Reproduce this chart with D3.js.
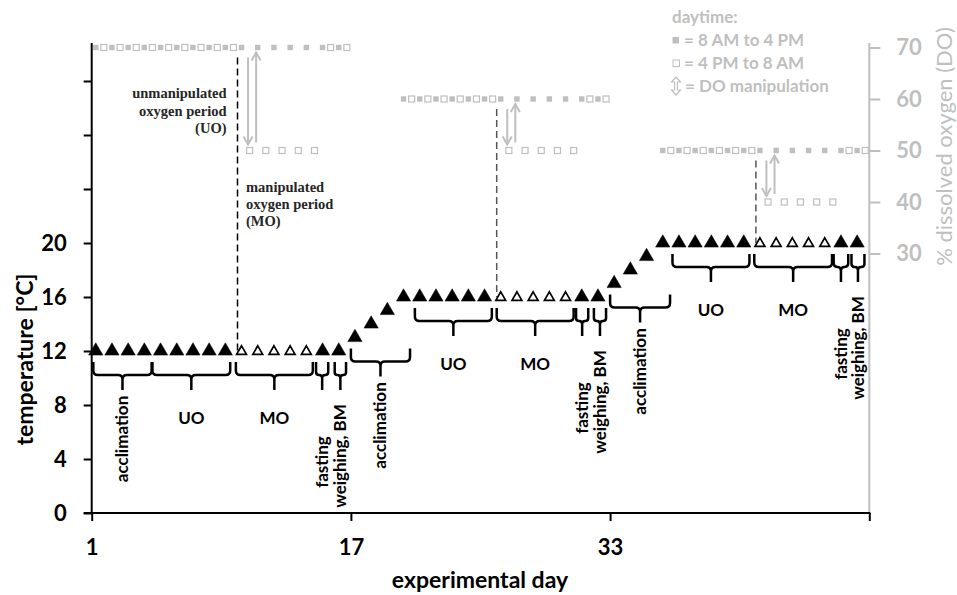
<!DOCTYPE html>
<html>
<head>
<meta charset="utf-8">
<script src="https://cdn.jsdelivr.net/npm/d3@7"></script>
<style>
  html, body { margin: 0; padding: 0; background: #fff; }
  svg { display: block; }
</style>
</head>
<body>
<svg id="chart" width="957" height="595"></svg>
<script>
// ---------------- DATA ----------------
const days = [1,2,3,4,5,6,7,8,9,10,11,12,13,14,15,16,17,18,19,20,21,22,23,24,25,26,27,28,29,30,31,32,33,34,35,36,37,38,39,40,41,42,43,44,45,46,47,48];
const temperature = [12,12,12,12,12,12,12,12,12,12,12,12,12,12,12,12,13,14,15,16,16,16,16,16,16,16,16,16,16,16,16,16,17,18,19,20,20,20,20,20,20,20,20,20,20,20,20,20];
// 1 = day of the manipulated oxygen period (open triangle)
const manipulated = [0,0,0,0,0,0,0,0,0,1,1,1,1,1,0,0,0,0,0,0,0,0,0,0,0,1,1,1,1,1,0,0,0,0,0,0,0,0,0,0,0,1,1,1,1,1,0,0];
// dissolved oxygen, daytime (8 AM to 4 PM) and night (4 PM to 8 AM)
const doDaytime = [70,70,70,70,70,70,70,70,70,70,70,70,70,70,70,70,null,null,null,60,60,60,60,60,60,60,60,60,60,60,60,60,null,null,null,50,50,50,50,50,50,50,50,50,50,50,50,50];
const doNight   = [70,70,70,70,70,70,70,70,70,50,50,50,50,50,70,70,null,null,null,60,60,60,60,60,60,50,50,50,50,50,60,60,null,null,null,50,50,50,50,50,50,40,40,40,40,40,50,50];
// DO manipulation events: first manipulated day, DO before, DO during
const manipStart = [10, 26, 42];
const manipFrom  = [70, 60, 50];
const manipTo    = [50, 50, 40];
const manipTemp  = [12, 16, 20];
// experimental phases (braces)
const phaseLabel = ["acclimation","UO","MO","fasting","weighing, BM",
                    "acclimation","UO","MO","fasting","weighing, BM",
                    "acclimation","UO","MO","fasting","weighing, BM"];
const phaseStart = [1.1, 4.75, 9.9, 14.85, 16.0,  17.0, 20.95, 26.0, 30.9, 32.0,  33.0, 36.85, 41.9, 46.8, 47.9];
const phaseEnd   = [4.7, 9.55, 14.65, 15.6, 16.7, 20.65, 25.7, 30.75, 31.65, 32.75, 36.7, 41.6, 46.7, 47.7, 48.7];
const phaseTemp  = [12, 12, 12, 12, 12,  13, 16, 16, 16, 16,  17, 20, 20, 20, 20];
// axis ticks
const xTicks = [1, 17, 33, 49];
const xTickLabels = ["1", "17", "33", ""];
const yLeftTicks = [0, 4, 8, 12, 16, 20, 24, 28, 32];
const yLeftLabelMax = 20;
const yRightTicks = [30, 40, 50, 60, 70];
const legendLabels = ["daytime:", "= 8 AM to 4 PM", "= 4 PM to 8 AM", "= DO manipulation"];

// ---------------- CHART ----------------
const svg = d3.select("#chart");
const SANS = "Lato, 'Open Sans', sans-serif";
const SERIF = "'Liberation Serif', serif";
const GRAY = "#bfbfbf";
const plotTop = 43, plotBottom = 513;

const x = d3.scaleLinear().domain([1, 49]).range([91.7, 869.3]);
const yL = d3.scaleLinear().domain([0, 20]).range([513, 243]);
const yR = d3.scaleLinear().domain([30, 70]).range([253.5, 47.5]);

const dayPos = d => x(d + 0.25);    // daytime sample / daily marker
const nightPos = d => x(d + 0.75);  // night sample

// --- right axis (DO)
const gR = svg.append("g").attr("transform", `translate(${x(49)},0)`)
  .call(d3.axisRight(yR).tickValues(yRightTicks).tickSize(11).tickPadding(16).tickSizeOuter(0));
gR.select(".domain").remove();
gR.selectAll(".tick line").attr("stroke", GRAY).attr("stroke-width", 2);
gR.selectAll(".tick text").attr("fill", GRAY).attr("font-family", SANS)
  .attr("font-weight", "bold").attr("font-size", 22);
gR.append("line").attr("x1", 0).attr("x2", 0).attr("y1", plotTop).attr("y2", plotBottom)
  .attr("stroke", GRAY).attr("stroke-width", 2);
svg.append("text")
  .attr("transform", `translate(944,${(31 + 262) / 2}) rotate(-90)`)
  .attr("text-anchor", "middle").attr("dy", "0.35em")
  .attr("font-family", SANS).attr("font-size", 22).attr("fill", GRAY)
  .text("% dissolved oxygen (DO)");

// --- DO squares
const doPts = [];
days.forEach((d, i) => {
  if (doDaytime[i] != null) doPts.push({ x: dayPos(d), v: doDaytime[i], filled: true });
  if (doNight[i] != null) doPts.push({ x: nightPos(d), v: doNight[i], filled: false });
});
svg.append("g").selectAll("rect.fsq").data(doPts.filter(p => p.filled)).join("rect")
  .attr("x", p => p.x - 2.7).attr("y", p => yR(p.v) - 2.7)
  .attr("width", 5.4).attr("height", 5.4).attr("fill", GRAY);
svg.append("g").selectAll("rect.osq").data(doPts.filter(p => !p.filled)).join("rect")
  .attr("x", p => p.x - 3).attr("y", p => yR(p.v) - 3)
  .attr("width", 6).attr("height", 6).attr("fill", "#fff")
  .attr("stroke", GRAY).attr("stroke-width", 1.2);

// --- manipulation arrows & dashed lines
function arrow(g, xp, yFrom, yTo) {
  g.append("line").attr("x1", xp).attr("x2", xp).attr("y1", yFrom).attr("y2", yTo)
    .attr("stroke", GRAY).attr("stroke-width", 2);
  const dir = yTo > yFrom ? 1 : -1;
  g.append("path")
    .attr("d", `M${xp - 4.5},${yTo - dir * 8} L${xp},${yTo} L${xp + 4.5},${yTo - dir * 8}`)
    .attr("fill", "none").attr("stroke", GRAY).attr("stroke-width", 2);
}
const gArr = svg.append("g");
manipStart.forEach((s, i) => {
  const yHi = yR(manipFrom[i]), yLo = yR(manipTo[i]);
  arrow(gArr, x(s + 0.65), yHi + 10, yLo - 6);
  arrow(gArr, x(s + 1.15), yLo - 8, yHi + 5);
  svg.append("line")
    .attr("x1", x(s)).attr("x2", x(s))
    .attr("y1", Math.max(plotTop + 2, yHi + 10)).attr("y2", yL(manipTemp[i]))
    .attr("stroke", i === 0 ? "#000" : "#555").attr("stroke-width", 1.5)
    .attr("stroke-dasharray", "7,4");
});

// --- left axis (temperature)
const gL = svg.append("g").attr("transform", `translate(${x(1)},0)`)
  .call(d3.axisLeft(yL).tickValues(yLeftTicks).tickSize(8).tickPadding(17).tickSizeOuter(0)
    .tickFormat(d => d <= yLeftLabelMax ? d : ""));
gL.select(".domain").remove();
gL.selectAll(".tick line").attr("stroke", "#000").attr("stroke-width", 2);
gL.selectAll(".tick text").attr("fill", "#000").attr("font-family", SANS)
  .attr("font-weight", "bold").attr("font-size", 22);
gL.append("line").attr("x1", 0).attr("x2", 0).attr("y1", plotTop).attr("y2", plotBottom)
  .attr("stroke", "#000").attr("stroke-width", 2);
svg.append("text")
  .attr("transform", `translate(25,${(267 + 452) / 2}) rotate(-90)`)
  .attr("text-anchor", "middle").attr("dy", "0.35em")
  .attr("font-family", SANS).attr("font-weight", "bold").attr("font-size", 23).attr("fill", "#000")
  .text("temperature [°C]");

// --- x axis
const gX = svg.append("g").attr("transform", `translate(0,${plotBottom})`)
  .call(d3.axisBottom(x).tickValues(xTicks).tickSize(8).tickPadding(18).tickSizeOuter(0)
    .tickFormat((d, i) => xTickLabels[i]));
gX.select(".domain").remove();
gX.selectAll(".tick line").attr("stroke", "#000").attr("stroke-width", 2);
gX.selectAll(".tick text").attr("fill", "#000").attr("font-family", SANS)
  .attr("font-weight", "bold").attr("font-size", 22);
gX.append("line").attr("x1", x(1) - 8).attr("x2", x(49) + 1).attr("y1", 0).attr("y2", 0)
  .attr("stroke", "#000").attr("stroke-width", 2);
svg.append("text").attr("x", 480).attr("y", 588).attr("text-anchor", "middle")
  .attr("font-family", SANS).attr("font-weight", "bold").attr("font-size", 23).attr("fill", "#000")
  .text("experimental day");

// --- temperature triangles
const tri = days.map((d, i) => ({ x: dayPos(d), t: temperature[i], open: manipulated[i] === 1 }));
svg.append("g").selectAll("path").data(tri).join("path")
  .attr("transform", p => `translate(${p.x},${yL(p.t) + (p.open ? 0.5 : 0)})`)
  .attr("d", p => d3.symbol().type(d3.symbolTriangle).size(p.open ? 42 : 88)())
  .attr("fill", p => p.open ? "#fff" : "#000")
  .attr("stroke", "#000").attr("stroke-width", p => p.open ? 1.7 : 0.5);

// --- braces & phase labels
const gB = svg.append("g");
phaseLabel.forEach((lab, i) => {
  const x0 = x(phaseStart[i]), x1 = x(phaseEnd[i]), xm = (x0 + x1) / 2;
  const y0 = yL(phaseTemp[i]) + 11, y1 = y0 + 13, tip = y0 + 28;
  const r = Math.min(4.5, (x1 - x0) / 4);
  const d = `M${x0},${y0} L${x0},${y1 - r} Q${x0},${y1} ${x0 + r},${y1} L${xm - r},${y1} Q${xm},${y1} ${xm},${y1 + r} L${xm},${tip}` +
            `M${x1},${y0} L${x1},${y1 - r} Q${x1},${y1} ${x1 - r},${y1} L${xm + r},${y1} Q${xm},${y1} ${xm},${y1 + r}`;
  gB.append("path").attr("d", d).attr("fill", "none").attr("stroke", "#000")
    .attr("stroke-width", 2.5).attr("stroke-linejoin", "round");
  const t = gB.append("text").attr("font-family", SANS).attr("font-weight", "bold")
    .attr("font-size", 17).attr("fill", "#000").attr("text-anchor", "middle").text(lab);
  if (lab === "UO" || lab === "MO") {
    t.attr("x", xm).attr("y", tip + 28).attr("dy", "0.35em");
  } else {
    const off = lab === "acclimation" ? 49 : (lab === "fasting" ? 72 : 66);
    t.attr("transform", `translate(${xm},${tip + off}) rotate(-90)`).attr("dy", "0.35em");
  }
});

// --- period annotations (serif)
const xDash = x(manipStart[0]);
const uoLines = ["unmanipulated", "oxygen period", "(UO)"];
const moLines = ["manipulated", "oxygen period", "(MO)"];
uoLines.forEach((s, i) => svg.append("text").attr("x", xDash - 11).attr("y", 98 + i * 17.5)
  .attr("text-anchor", "end").attr("font-family", SERIF).attr("font-weight", "bold")
  .attr("font-size", 14.5).attr("fill", "#262626").text(s));
moLines.forEach((s, i) => svg.append("text").attr("x", xDash + 8.5).attr("y", 192 + i * 17.2)
  .attr("text-anchor", "start").attr("font-family", SERIF).attr("font-weight", "bold")
  .attr("font-size", 14.5).attr("fill", "#262626").text(s));

// --- legend
const gLeg = svg.append("g").attr("font-family", SANS).attr("font-weight", "bold")
  .attr("font-size", 17).attr("fill", GRAY);
gLeg.append("text").attr("x", 672).attr("y", 23).text(legendLabels[0]);
gLeg.append("rect").attr("x", 672.5).attr("y", 37).attr("width", 6.5).attr("height", 6.5).attr("fill", GRAY);
gLeg.append("text").attr("x", 684).attr("y", 46).text(legendLabels[1]);
gLeg.append("rect").attr("x", 673).attr("y", 60).attr("width", 6.5).attr("height", 6.5)
  .attr("fill", "#fff").attr("stroke", GRAY).attr("stroke-width", 1);
gLeg.append("text").attr("x", 684).attr("y", 69).text(legendLabels[2]);
{
  const cx = 676, cy = 86;
  const pts = [[cx, cy - 9], [cx + 4.5, cy - 4], [cx + 1.4, cy - 4], [cx + 1.4, cy + 4], [cx + 4.5, cy + 4],
               [cx, cy + 9], [cx - 4.5, cy + 4], [cx - 1.4, cy + 4], [cx - 1.4, cy - 4], [cx - 4.5, cy - 4]];
  gLeg.append("path").attr("d", "M" + pts.map(p => p.join(",")).join("L") + "Z")
    .attr("fill", "none").attr("stroke", GRAY).attr("stroke-width", 1.2);
}
gLeg.append("text").attr("x", 685).attr("y", 92).text(legendLabels[3]);
</script>
</body>
</html>
